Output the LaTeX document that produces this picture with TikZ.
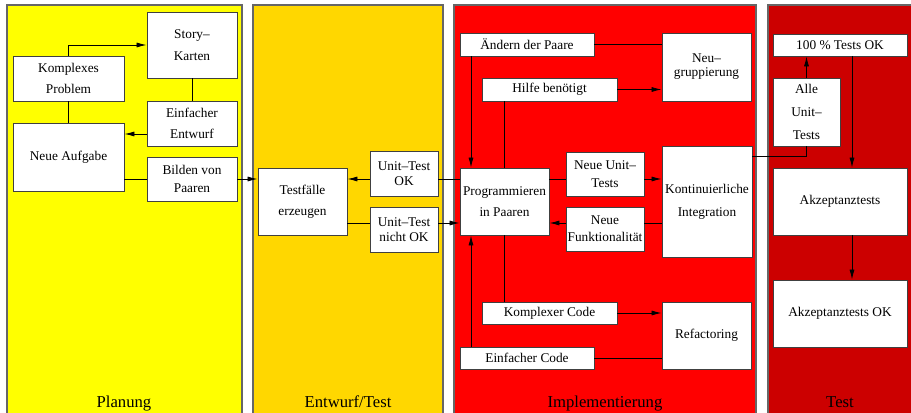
\documentclass[tikz,border=0pt]{standalone}
\usepackage{fontspec}
\setmainfont{Liberation Serif}
\usetikzlibrary{arrows.meta}

\definecolor{planY}{RGB}{255,255,0}
\definecolor{designG}{RGB}{255,215,0}
\definecolor{implR}{RGB}{255,0,0}
\definecolor{testR}{RGB}{204,0,0}

\tikzset{
  phase/.style={draw=black!60, line width=0.9pt},
  box/.style={draw=black!75, fill=white, line width=0.7pt, inner sep=0pt,
    align=center, font=\fontsize{10}{12}\selectfont},
  phaselabel/.style={anchor=base, font=\fontsize{12.5}{14}\selectfont},
  link/.style={draw=black, line width=0.6pt},
  arr/.style={link, -{Latex[length=7.5pt,width=3.8pt]}},
}

% \procbox{name}{left}{top}{right}{bottom}{text}: a white box spanning the given corners
\newcommand\procbox[6]{%
  \node[box, minimum width={(#4-#2)*0.75pt}, minimum height={(#5-#3)*0.75pt}]
    (#1) at ({(#2+#4)/2},{(#3+#5)/2}) {#6};}

\begin{document}
\begin{tikzpicture}[x=0.75pt, y=-0.75pt]
\useasboundingbox (0,0) rectangle (911,413);
\fill[white] (0,0) rectangle (911,413);

% phase columns
\filldraw[phase, fill=planY]   (7,5)   rectangle (242,416);
\filldraw[phase, fill=designG] (253,5) rectangle (443,416);
\filldraw[phase, fill=implR]   (454,5) rectangle (756,416);
\filldraw[phase, fill=testR]   (768,5) rectangle (916,416);

\node[phaselabel] (lplan)  at (124,407) {Planung};
\node[phaselabel] (ldes)   at (348,407) {Entwurf/Test};
\node[phaselabel] (limpl)  at (605,407) {Implementierung};
\node[phaselabel] (ltest)  at (840,407) {Test};

% helper coordinates for connector rows and columns
\coordinate (rowA) at (0,179);
\coordinate (rowB) at (0,223);
\coordinate (rowE) at (0,134);
\coordinate (rowK) at (0,156);
\coordinate (rowC) at (0,358);
\coordinate (colL) at (471,0);
\coordinate (colR) at (504,0);
\coordinate (colT) at (852,0);

% Planung
\procbox{story}{147}{12}{237}{78}{Story--\\[4pt]Karten}
\procbox{komplex}{13}{56}{124}{101}{Komplexes\\[3.5pt]Problem}
\procbox{entwurf}{147}{101}{237}{146}{Einfacher\\[4pt]Entwurf}
\procbox{aufgabe}{13}{123}{124}{191}{Neue Aufgabe}
\procbox{bilden}{147}{157}{237}{201}{Bilden von\\[1.5pt]Paaren}

% Entwurf/Test
\procbox{testf}{258}{168}{347}{235}{Testfälle\\[4pt]erzeugen}
\procbox{utok}{370}{151}{438}{196}{Unit--Test\\[-0.5pt]OK}
\procbox{utnok}{370}{207}{438}{252}{Unit--Test\\[-0.5pt]nicht OK}

% Implementierung
\procbox{aendern}{460}{33}{594}{56}{Ändern der Paare}
\procbox{hilfe}{482}{78}{617}{101}{Hilfe benötigt}
\procbox{neugr}{662}{33}{751}{101}{Neu--\\[-1.5pt]gruppierung}
\procbox{prog}{460}{168}{549}{235}{Programmieren\\[4pt]in Paaren}
\procbox{nut}{566}{152}{644}{196}{Neue Unit--\\[1pt]Tests}
\procbox{nfunk}{566}{207}{644}{251}{Neue\\[1pt]Funktionalität}
\procbox{ki}{662}{146}{752}{257}{Kontinuierliche\\[5pt]Integration}
\procbox{kcode}{482}{302}{617}{324}{Komplexer Code}
\procbox{ecode}{460}{347}{594}{369}{Einfacher Code}
\procbox{refac}{662}{302}{751}{369}{Refactoring}

% Test
\procbox{hundert}{773}{34}{907}{56}{100 \% Tests OK}
\procbox{alle}{773}{78}{840}{146}{Alle\\[5pt]Unit--\\[5pt]Tests}
\procbox{akz}{773}{168}{907}{235}{Akzeptanztests}
\procbox{akzok}{773}{280}{907}{347}{Akzeptanztests OK}

% Planung connectors
\draw[arr]  (komplex.north) |- (story.west);
\draw[link] (komplex.south) -- (aufgabe.north);
\draw[link] (story.south) -- (entwurf.north);
\draw[arr]  (entwurf.west |- rowE) -- (aufgabe.east |- rowE);
\draw[link] (aufgabe.east |- bilden.west) -- (bilden.west);
\draw[arr]  (bilden.east) -- (testf.west |- bilden.east);

% Entwurf/Test connectors
\draw[link] (prog.west |- rowA) -- (utok.east |- rowA);
\draw[arr]  (utok.west |- rowA) -- (testf.east |- rowA);
\draw[link] (testf.east |- rowB) -- (utnok.west |- rowB);
\draw[arr]  (utnok.east |- rowB) -- (prog.west |- rowB);

% Implementierung connectors
\draw[link] (aendern.east) -- (neugr.west |- aendern.east);
\draw[arr]  (hilfe.east) -- (neugr.west |- hilfe.east);
\draw[arr]  (aendern.south -| colL) -- (prog.north -| colL);
\draw[link] (hilfe.south -| colR) -- (prog.north -| colR);
\draw[link] (prog.south -| colR) -- (kcode.north -| colR);
\draw[arr]  (ecode.north -| colL) -- (prog.south -| colL);
\draw[link] (prog.east |- rowA) -- (nut.west |- rowA);
\draw[arr]  (nut.east |- rowA) -- (ki.west |- rowA);
\draw[link] (ki.west |- rowB) -- (nfunk.east |- rowB);
\draw[arr]  (nfunk.west |- rowB) -- (prog.east |- rowB);
\draw[arr]  (kcode.east) -- (refac.west |- kcode.east);
\draw[link] (refac.west |- rowC) -- (ecode.east |- rowC);

% Test connectors
\draw[link] (ki.east |- rowK) -| (alle.south);
\draw[arr]  (alle.north) -- (hundert.south -| alle.north);
\draw[arr]  (hundert.south -| colT) -- (akz.north -| colT);
\draw[arr]  (akz.south -| colT) -- (akzok.north -| colT);
\end{tikzpicture}
\end{document}
